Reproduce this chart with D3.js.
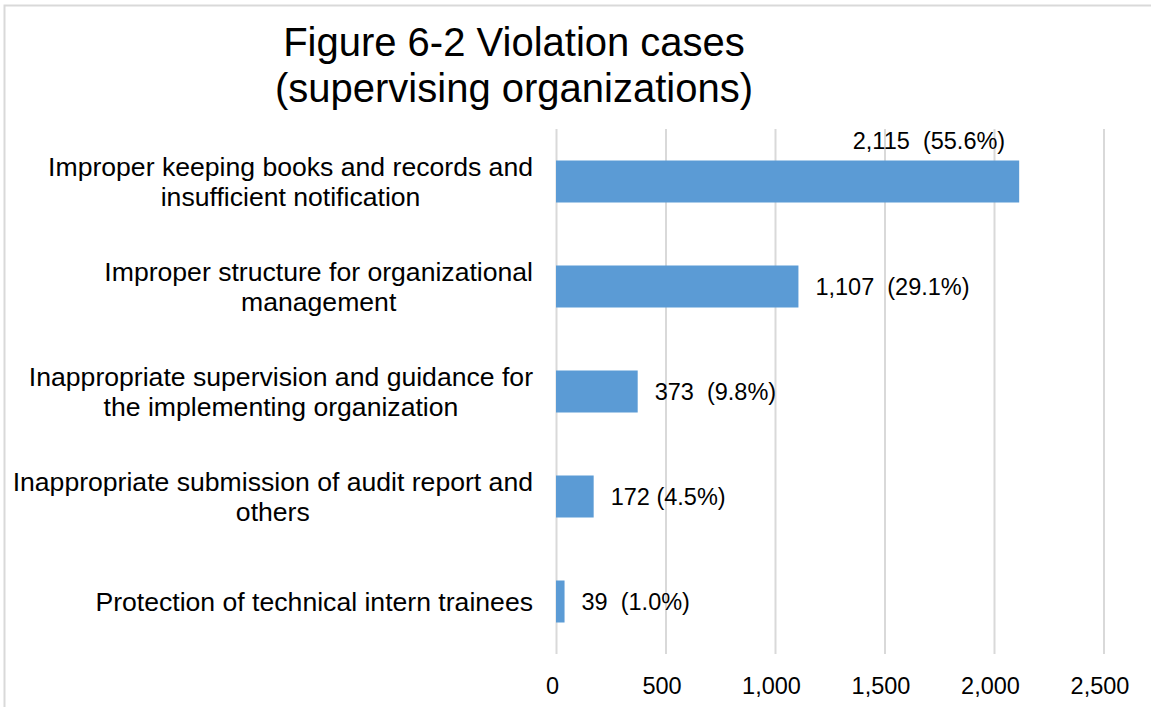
<!DOCTYPE html>
<html>
<head>
<meta charset="utf-8">
<script src="https://cdn.jsdelivr.net/npm/d3@7"></script>
<style>
  body { margin: 0; background: #fff; }
  text { font-family: "Liberation Sans", Arial, sans-serif; fill: #000; white-space: pre; }
</style>
</head>
<body>
<div class="chart"></div>
<script>
const titleLines = ['Figure 6-2 Violation cases', '(supervising organizations)'];
const categories = [
  ['Improper keeping books and records and', 'insufficient notification'],
  ['Improper structure for organizational', 'management'],
  ['Inappropriate supervision and guidance for', 'the implementing organization'],
  ['Inappropriate submission of audit report and', 'others'],
  ['Protection of technical intern trainees']
];
const cases = [2115, 1107, 373, 172, 39];
const shares = [55.6, 29.1, 9.8, 4.5, 1.0];
const gaps = ['  ', '  ', '  ', ' ', '  '];
const tickValues = [0, 500, 1000, 1500, 2000, 2500];

const width = 1151;
const height = 707;
const plotTop = 129;
const plotBottom = 654;
const labelRight = 533;

const svg = d3
  .select('.chart')
  .append('svg')
  .attr('width', width)
  .attr('height', height);

// outer chart border (clipped on right and bottom like the source)
svg
  .append('rect')
  .attr('x', 4.5)
  .attr('y', 5.5)
  .attr('width', width + 20)
  .attr('height', height + 20)
  .attr('fill', 'none')
  .attr('stroke', '#d9d9d9')
  .attr('stroke-width', 2);

const x = d3.scaleLinear().domain([0, 2500]).range([556, 1103.5]);
const y = d3
  .scaleBand()
  .domain(d3.range(cases.length))
  .range([plotTop, plotBottom])
  .paddingInner(0.6)
  .paddingOuter(0.3);

// title
svg
  .append('g')
  .selectAll('text')
  .data(titleLines)
  .enter()
  .append('text')
  .attr('x', 514)
  .attr('y', (d, i) => 42 + i * 46)
  .attr('dy', '0.35em')
  .attr('text-anchor', 'middle')
  .style('font-size', '40px')
  .text(d => d);

// gridlines + tick labels
const axis = svg
  .append('g')
  .attr('transform', `translate(0,${plotBottom})`)
  .call(
    d3
      .axisBottom(x)
      .tickValues(tickValues)
      .tickSize(-(plotBottom - plotTop))
      .tickFormat(d3.format(','))
  );
axis.select('.domain').remove();
axis.selectAll('.tick line').attr('stroke', '#d9d9d9').attr('stroke-width', 2);
axis
  .selectAll('.tick text')
  .attr('y', 32)
  .attr('dy', '0.35em')
  .attr('dx', -4)
  .attr('fill', '#000')
  .style('font-size', '23.5px')
  .style('font-family', '"Liberation Sans", Arial, sans-serif');

// bars
svg
  .append('g')
  .selectAll('rect')
  .data(cases)
  .enter()
  .append('rect')
  .attr('x', x(0))
  .attr('y', (d, i) => y(i))
  .attr('width', d => x(d) - x(0))
  .attr('height', y.bandwidth())
  .attr('fill', '#5b9bd5');

// category labels, each block centred on its own width
categories.forEach((lines, i) => {
  const cy = y(i) + y.bandwidth() / 2;
  const g = svg.append('g');
  const t = g
    .selectAll('text')
    .data(lines)
    .enter()
    .append('text')
    .attr('y', (d, j) => cy + (j - (lines.length - 1) / 2) * 30.5)
    .attr('dy', '0.35em')
    .attr('text-anchor', 'middle')
    .style('font-size', '26.6px')
    .text(d => d);
  const maxW = d3.max(t.nodes(), n => n.getComputedTextLength());
  t.attr('x', labelRight - maxW / 2);
});

// data labels
cases.forEach((v, i) => {
  const label = `${d3.format(',')(v)}${gaps[i]}(${shares[i].toFixed(1)}%)`;
  const t = svg
    .append('text')
    .style('font-size', '23.5px')
    .attr('dy', '0.35em')
    .text(label);
  const w = t.node().getComputedTextLength();
  if (x(v) + 17 + w > x(2500)) {
    t.attr('x', x(v) - 14)
      .attr('y', y(i) - 19.5)
      .attr('text-anchor', 'end');
  } else {
    t.attr('x', x(v) + 17).attr('y', y(i) + y.bandwidth() / 2);
  }
});
</script>
</body>
</html>
